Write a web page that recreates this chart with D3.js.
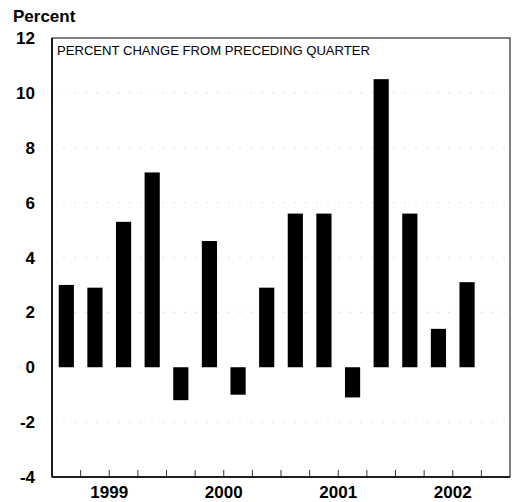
<!DOCTYPE html>
<html lang="en">
<head>
<meta charset="UTF-8">
<title>Percent change from preceding quarter</title>
<script src="https://d3js.org/d3.v7.min.js"></script>
<style>
  body { margin: 0; background: #fff; }
  text { font-family: "Liberation Sans", Arial, sans-serif; fill: #000; }
</style>
</head>
<body>
<div id="chart"></div>
<script>
// quarters 1999Q1 .. 2002Q4, last quarter has no value yet
var quarters = ["1999Q1","1999Q2","1999Q3","1999Q4",
                "2000Q1","2000Q2","2000Q3","2000Q4",
                "2001Q1","2001Q2","2001Q3","2001Q4",
                "2002Q1","2002Q2","2002Q3","2002Q4"];
var values = [3.0, 2.9, 5.3, 7.1,
              -1.2, 4.6, -1.0, 2.9,
              5.6, 5.6, -1.1, 10.5,
              5.6, 1.4, 3.1];
var years = ["1999","2000","2001","2002"];
var yTicks = [-4, -2, 0, 2, 4, 6, 8, 10, 12];

var w = 514, h = 502;
var margin = {top: 38, right: 4, bottom: 25, left: 52};

var svg = d3.select("#chart").append("svg")
    .attr("width", w)
    .attr("height", h);

var x = d3.scaleBand()
    .domain(quarters)
    .range([margin.left, w - margin.right])
    .paddingInner(0.47)
    .paddingOuter(0.235);

var xq = d3.scaleBand()   // plain quarter slots, for the ticks
    .domain(quarters)
    .range([margin.left, w - margin.right]);

var y = d3.scaleLinear()
    .domain([-4, 12])
    .range([h - margin.bottom, margin.top]);

// faint dotted grid
svg.append("g")
    .selectAll("line")
    .data(yTicks.filter(function(d){ return d > -4 && d < 12 && d != 0; }))
    .enter().append("line")
    .attr("x1", margin.left)
    .attr("x2", w - margin.right)
    .attr("y1", function(d){ return y(d); })
    .attr("y2", function(d){ return y(d); })
    .attr("stroke", "#d8d8d8")
    .attr("stroke-width", 0.8)
    .attr("stroke-dasharray", "2,9");

// bars
svg.append("g")
    .selectAll("rect")
    .data(values)
    .enter().append("rect")
    .attr("x", function(d, i){ return x(quarters[i]); })
    .attr("width", x.bandwidth())
    .attr("y", function(d){ return y(Math.max(0, d)); })
    .attr("height", function(d){ return Math.abs(y(d) - y(0)); })
    .attr("fill", "#000");

// frame
svg.append("rect")
    .attr("x", margin.left)
    .attr("y", margin.top)
    .attr("width", w - margin.left - margin.right)
    .attr("height", h - margin.top - margin.bottom)
    .attr("fill", "none")
    .attr("stroke", "#000")
    .attr("stroke-width", 1);

// heavier left and bottom axis lines
svg.append("line")
    .attr("x1", margin.left).attr("x2", margin.left)
    .attr("y1", margin.top).attr("y2", h - margin.bottom)
    .attr("stroke", "#000").attr("stroke-width", 1.6);
svg.append("line")
    .attr("x1", margin.left).attr("x2", w - margin.right)
    .attr("y1", h - margin.bottom).attr("y2", h - margin.bottom)
    .attr("stroke", "#000").attr("stroke-width", 1.6);

// quarter ticks on the bottom axis
svg.append("g")
    .selectAll("line")
    .data(quarters.slice(1))
    .enter().append("line")
    .attr("x1", function(d){ return xq(d); })
    .attr("x2", function(d){ return xq(d); })
    .attr("y1", h - margin.bottom)
    .attr("y2", h - margin.bottom - 7)
    .attr("stroke", "#000")
    .attr("stroke-width", 0.8);

// y labels
svg.append("g")
    .selectAll("text")
    .data(yTicks)
    .enter().append("text")
    .attr("x", 35)
    .attr("y", function(d){ return y(d); })
    .attr("dy", "0.36em")
    .attr("text-anchor", "end")
    .attr("font-size", 17)
    .attr("font-weight", "bold")
    .text(function(d){ return d; });

// year labels, centred under each group of four quarters
svg.append("g")
    .selectAll("text")
    .data(years)
    .enter().append("text")
    .attr("x", function(d){ return xq(d + "Q3"); })
    .attr("y", 498)
    .attr("text-anchor", "middle")
    .attr("font-size", 17)
    .attr("font-weight", "bold")
    .text(function(d){ return d; });

svg.append("text")
    .attr("x", 13)
    .attr("y", 22)
    .attr("font-size", 17)
    .attr("font-weight", "bold")
    .text("Percent");

svg.append("text")
    .attr("x", 57)
    .attr("y", 55)
    .attr("font-size", 13)
    .attr("textLength", 313)
    .attr("lengthAdjust", "spacingAndGlyphs")
    .text("PERCENT CHANGE FROM PRECEDING QUARTER");
</script>
</body>
</html>
